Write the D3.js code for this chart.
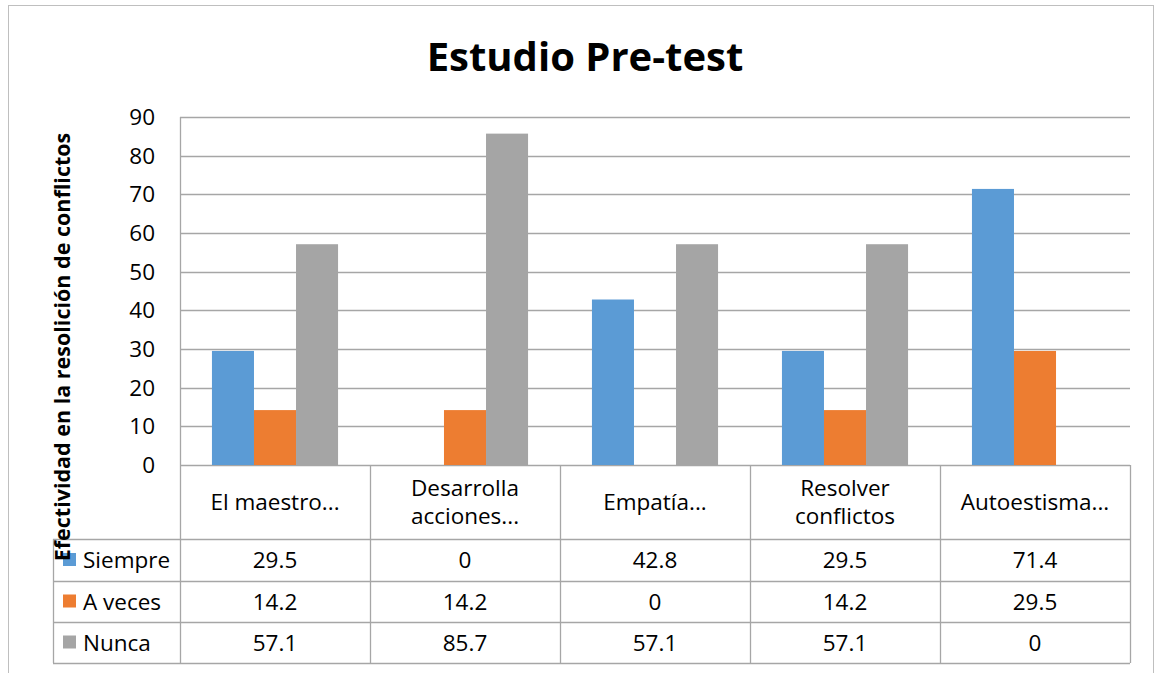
<!DOCTYPE html>
<html lang="es">
<head>
<meta charset="UTF-8">
<script src="https://cdn.jsdelivr.net/npm/d3@7"></script>
<style>
    body { margin: 0; background: white; }
    text { font-family: "Open Sans", "Noto Sans", sans-serif; fill: #000; }
</style>
</head>
<body>
<script>
    // data
    const categories = [["El maestro..."], ["Desarrolla", "acciones..."], ["Empatía..."], ["Resolver", "conflictos"], ["Autoestisma..."]];
    const seriesNames = ["Siempre", "A veces", "Nunca"];
    const siempre = [29.5, 0, 42.8, 29.5, 71.4];
    const aVeces = [14.2, 14.2, 0, 14.2, 29.5];
    const nunca = [57.1, 85.7, 57.1, 57.1, 0];
    const yTicks = [0, 10, 20, 30, 40, 50, 60, 70, 80, 90];
    const colors = ["#5B9BD5", "#ED7D31", "#A5A5A5"];

    const seriesValues = [siempre, aVeces, nunca];
    const labels = categories.map(c => c.join(" "));

    const W = 1161, H = 673;
    const plot = { left: 180, right: 1130, top: 117, bottom: 465 };
    const rowLines = [539, 581, 622, 663];
    const tableLeft = 53;
    const fs = 22.5;

    const svg = d3.select("body").append("svg")
        .attr("width", W)
        .attr("height", H);

    // outer frame
    svg.append("rect")
        .attr("x", 8.5).attr("y", 5.5)
        .attr("width", 1145).attr("height", 700)
        .attr("fill", "none").attr("stroke", "#bfbfbf");

    const y = d3.scaleLinear().domain([0, 90]).range([plot.bottom, plot.top]);
    const x = d3.scaleBand().domain(labels).range([plot.left, plot.right]);
    const xs = d3.scaleBand().domain(seriesNames)
        .range([0, x.bandwidth()]).paddingOuter(0.76);

    // gridlines
    svg.append("g").selectAll("line")
        .data(yTicks)
        .join("line")
        .attr("x1", plot.left).attr("x2", plot.right)
        .attr("y1", d => Math.round(y(d)) + 0.5).attr("y2", d => Math.round(y(d)) + 0.5)
        .attr("stroke", "#a6a6a6").attr("stroke-width", 1.3);

    // y tick labels
    svg.append("g").selectAll("text")
        .data(yTicks)
        .join("text")
        .attr("x", 155).attr("y", d => y(d))
        .attr("dy", "0.36em")
        .attr("text-anchor", "end")
        .attr("font-size", fs)
        .text(d => d);

    // bars
    seriesNames.forEach((s, si) => {
        svg.append("g").selectAll("rect")
            .data(seriesValues[si])
            .join("rect")
            .attr("x", (d, i) => x(labels[i]) + xs(s))
            .attr("width", xs.bandwidth())
            .attr("y", d => y(d))
            .attr("height", d => y(0) - y(d))
            .attr("fill", colors[si]);
    });

    // table lines
    const grid = svg.append("g").attr("stroke", "#a6a6a6").attr("stroke-width", 1.3);
    grid.append("line").attr("x1", plot.left + 0.5).attr("x2", plot.left + 0.5)
        .attr("y1", plot.top).attr("y2", rowLines[3]);
    grid.append("line").attr("x1", tableLeft + 0.5).attr("x2", tableLeft + 0.5)
        .attr("y1", rowLines[0]).attr("y2", rowLines[3]);
    grid.selectAll(".vl")
        .data(labels)
        .join("line")
        .attr("x1", d => x(d) + x.bandwidth() + 0.5).attr("x2", d => x(d) + x.bandwidth() + 0.5)
        .attr("y1", plot.bottom).attr("y2", rowLines[3]);
    grid.selectAll(".hl")
        .data(rowLines)
        .join("line")
        .attr("x1", tableLeft).attr("x2", plot.right)
        .attr("y1", d => d + 0.5).attr("y2", d => d + 0.5);

    // category header
    const headMid = (plot.bottom + rowLines[0]) / 2;
    svg.append("g").selectAll("text")
        .data(categories)
        .join("text")
        .attr("text-anchor", "middle")
        .attr("font-size", fs)
        .attr("x", (d, i) => x(labels[i]) + x.bandwidth() / 2)
        .each(function(d) {
            const t = d3.select(this);
            d.forEach((line, li) => {
                t.append("tspan")
                    .attr("x", t.attr("x"))
                    .attr("y", headMid + (li - (d.length - 1) / 2) * 28)
                    .attr("dy", "0.36em")
                    .text(line);
            });
        });

    // data rows
    seriesNames.forEach((s, si) => {
        const mid = (rowLines[si] + rowLines[si + 1]) / 2;
        const row = svg.append("g");
        row.append("rect")
            .attr("x", 63).attr("y", mid - 7)
            .attr("width", 13).attr("height", 13)
            .attr("fill", colors[si]);
        row.append("text")
            .attr("x", 83).attr("y", mid).attr("dy", "0.36em")
            .attr("font-size", fs)
            .text(s);
        row.selectAll(".v")
            .data(seriesValues[si])
            .join("text")
            .attr("x", (d, i) => x(labels[i]) + x.bandwidth() / 2)
            .attr("y", mid).attr("dy", "0.36em")
            .attr("text-anchor", "middle")
            .attr("font-size", fs)
            .text(d => d);
    });

    // title
    svg.append("text")
        .attr("x", 585).attr("y", 57).attr("dy", "0.36em")
        .attr("text-anchor", "middle")
        .attr("font-size", 40).attr("font-weight", "bold")
        .text("Estudio Pre-test");

    // y axis title
    svg.append("text")
        .attr("transform", "translate(62,347) rotate(-90)")
        .attr("dy", "0.36em")
        .attr("text-anchor", "middle")
        .attr("font-size", 21.5).attr("font-weight", "bold")
        .text("Efectividad en la resolición de conflictos");
</script>
</body>
</html>
